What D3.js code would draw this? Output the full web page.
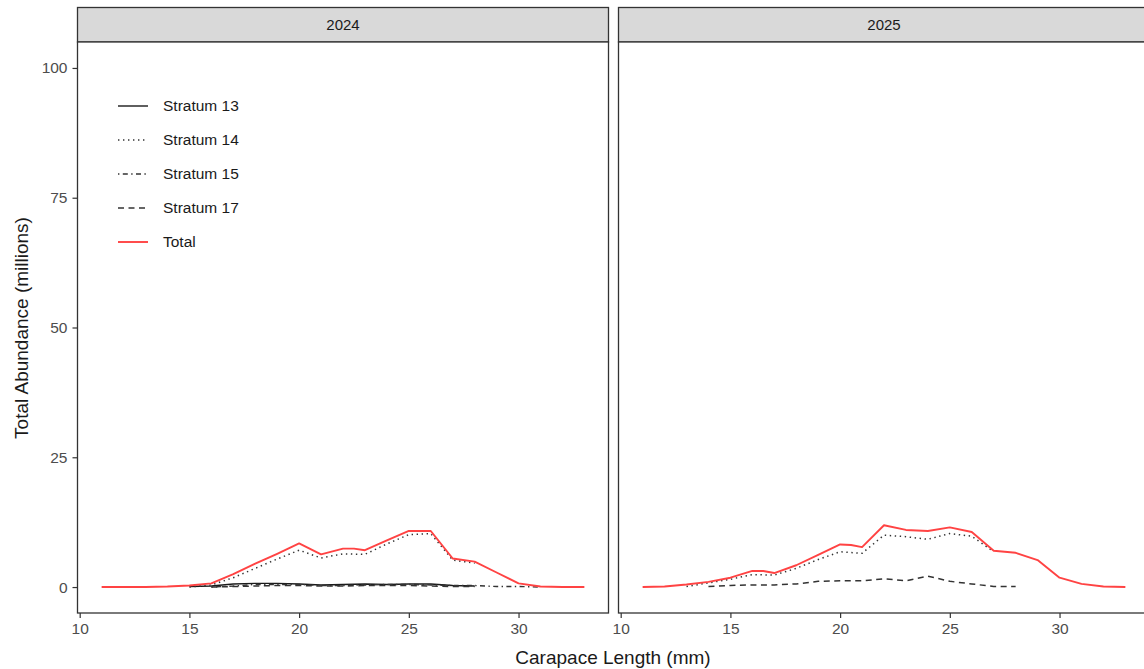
<!DOCTYPE html>
<html><head><meta charset="utf-8">
<script src="https://cdn.jsdelivr.net/npm/d3@7"></script>
<style>body{margin:0;background:#fff;} svg{display:block;font-family:"Liberation Sans",Arial,sans-serif;}</style>
</head><body>
<svg id="chart" width="1144" height="669"></svg>
<script>
const years = ["2024", "2025"];
const seriesNames = ["Stratum 13", "Stratum 14", "Stratum 15", "Stratum 17", "Total"];
const xTicks = [10, 15, 20, 25, 30];
const yTicks = [0, 25, 50, 75, 100];

// 2024
const s13_2024_x = [15, 16, 17, 18, 19, 20, 21, 22, 23, 24, 25, 26, 27, 28];
const s13_2024_y = [0.1, 0.2, 0.6, 0.7, 0.7, 0.6, 0.4, 0.5, 0.6, 0.5, 0.6, 0.6, 0.3, 0.2];
const s14_2024_x = [15, 16, 17, 18, 19, 20, 21, 22, 23, 24, 25, 26, 27, 28];
const s14_2024_y = [0.0, 0.4, 1.8, 3.6, 5.4, 7.1, 5.6, 6.4, 6.3, 8.3, 10.1, 10.3, 5.2, 4.6];
const s15_2024_x = [16, 17, 18, 19, 20, 21, 22, 23, 24, 25, 26, 27, 28, 29, 30, 31];
const s15_2024_y = [0.0, 0.2, 0.5, 0.5, 0.5, 0.3, 0.3, 0.4, 0.5, 0.5, 0.4, 0.3, 0.3, 0.1, 0.1, 0.0];
const s17_2024_x = [16, 17, 18, 19, 20, 21, 22, 23, 24, 25, 26, 27, 28];
const s17_2024_y = [0.0, 0.1, 0.2, 0.3, 0.3, 0.2, 0.2, 0.3, 0.3, 0.3, 0.2, 0.1, 0.1];
const tot_2024_x = [11, 12, 13, 14, 15, 16, 17, 18, 19, 20, 21, 22, 22.5, 23, 24, 25, 26, 27, 28, 29, 30, 31, 32, 33];
const tot_2024_y = [0, 0, 0, 0.1, 0.3, 0.7, 2.5, 4.5, 6.4, 8.4, 6.3, 7.4, 7.4, 7.1, 9.0, 10.8, 10.8, 5.5, 4.9, 2.8, 0.7, 0.1, 0, 0];

// 2025
const s14_2025_x = [13, 14, 15, 16, 17, 18, 19, 20, 21, 22, 23, 24, 25, 26, 27];
const s14_2025_y = [0.1, 0.8, 1.5, 2.4, 2.3, 3.6, 5.3, 6.8, 6.5, 10.0, 9.7, 9.2, 10.3, 9.8, 6.8];
const s17_2025_x = [14, 15, 16, 17, 18, 19, 20, 21, 22, 23, 24, 25, 26, 27, 28];
const s17_2025_y = [0.1, 0.3, 0.4, 0.4, 0.6, 1.1, 1.2, 1.2, 1.6, 1.2, 2.1, 1.1, 0.6, 0.1, 0.1];
const tot_2025_x = [11, 12, 13, 14, 15, 16, 16.5, 17, 18, 19, 20, 20.5, 21, 22, 23, 24, 25, 26, 27, 28, 29, 30, 31, 32, 33];
const tot_2025_y = [0, 0.1, 0.5, 1.0, 1.8, 3.1, 3.1, 2.7, 4.2, 6.2, 8.2, 8.1, 7.7, 11.9, 11.0, 10.8, 11.5, 10.6, 7.0, 6.6, 5.2, 1.8, 0.6, 0.1, 0];

const zip = (xs, ys) => xs.map((x, i) => ({x, y: ys[i]}));
const panelData = {
  "2024": [
    {name: "Stratum 13", pts: zip(s13_2024_x, s13_2024_y)},
    {name: "Stratum 14", pts: zip(s14_2024_x, s14_2024_y)},
    {name: "Stratum 15", pts: zip(s15_2024_x, s15_2024_y)},
    {name: "Stratum 17", pts: zip(s17_2024_x, s17_2024_y)},
    {name: "Total", pts: zip(tot_2024_x, tot_2024_y)}
  ],
  "2025": [
    {name: "Stratum 14", pts: zip(s14_2025_x, s14_2025_y)},
    {name: "Stratum 17", pts: zip(s17_2025_x, s17_2025_y)},
    {name: "Total", pts: zip(tot_2025_x, tot_2025_y)}
  ]
};

const styles = {
  "Stratum 13": {color: "#1a1a1a", dash: null, w: 1.4},
  "Stratum 14": {color: "#333", dash: "1.4,3.6", w: 1.5},
  "Stratum 15": {color: "#333", dash: "1.4,3.4,5,3.4", w: 1.4},
  "Stratum 17": {color: "#333", dash: "6,4.5", w: 1.5},
  "Total": {color: "#ff4343", dash: null, w: 1.9}
};

const svg = d3.select("#chart");
const panelLefts = [77.5, 618.5];
const panelW = 531;
const panelTop = 42, panelBottom = 613, stripTop = 7.5;

const y = d3.scaleLinear().domain([-5, 105]).range([panelBottom, panelTop]);

years.forEach((yr, i) => {
  const left = panelLefts[i];
  const x = d3.scaleLinear().domain([9.9, 34.1]).range([left, left + panelW]);
  const g = svg.append("g");

  g.append("rect").attr("x", left).attr("y", stripTop).attr("width", panelW).attr("height", panelTop - stripTop)
    .attr("fill", "#d9d9d9").attr("stroke", "#333").attr("stroke-width", 1.3);
  g.append("text").attr("x", left + panelW / 2).attr("y", (stripTop + panelTop) / 2)
    .attr("dy", "0.35em").attr("text-anchor", "middle").attr("font-size", 15).attr("fill", "#1a1a1a").text(yr);

  g.append("rect").attr("x", left).attr("y", panelTop).attr("width", panelW).attr("height", panelBottom - panelTop)
    .attr("fill", "#fff");

  const clipId = "clip" + i;
  svg.append("clipPath").attr("id", clipId).append("rect")
    .attr("x", left).attr("y", panelTop).attr("width", panelW).attr("height", panelBottom - panelTop);

  const line = d3.line().x(d => x(d.x)).y(d => y(d.y));
  const lg = g.append("g").attr("clip-path", `url(#${clipId})`);
  panelData[yr].forEach(s => {
    const st = styles[s.name];
    lg.append("path").datum(s.pts).attr("d", line).attr("fill", "none")
      .attr("stroke", st.color).attr("stroke-width", st.w)
      .attr("stroke-dasharray", st.dash).attr("stroke-linejoin", "round");
  });

  g.append("rect").attr("x", left).attr("y", panelTop).attr("width", panelW).attr("height", panelBottom - panelTop)
    .attr("fill", "none").attr("stroke", "#333").attr("stroke-width", 1.3);

  const xa = g.append("g").attr("transform", `translate(0,${panelBottom})`)
    .call(d3.axisBottom(x).tickValues(xTicks).tickSize(5).tickPadding(5).tickFormat(d3.format("d")));
  xa.select(".domain").remove();
  xa.selectAll("line").attr("stroke", "#333").attr("stroke-width", 1.2);
  xa.selectAll("text").attr("font-size", 15.5).attr("fill", "#4d4d4d").attr("font-family", "Liberation Sans, Arial, sans-serif");

  if (i === 0) {
    const ya = g.append("g").attr("transform", `translate(${left},0)`)
      .call(d3.axisLeft(y).tickValues(yTicks).tickSize(5).tickPadding(5));
    ya.select(".domain").remove();
    ya.selectAll("line").attr("stroke", "#333").attr("stroke-width", 1.2);
    ya.selectAll("text").attr("font-size", 15.5).attr("fill", "#4d4d4d").attr("font-family", "Liberation Sans, Arial, sans-serif");

    const leg = g.append("g");
    seriesNames.forEach((n, k) => {
      const yy = 106 + k * 34;
      const st = styles[n];
      leg.append("line").attr("x1", 118).attr("x2", 148).attr("y1", yy).attr("y2", yy)
        .attr("stroke", st.color).attr("stroke-width", st.w).attr("stroke-dasharray", st.dash);
      leg.append("text").attr("x", 163).attr("y", yy).attr("dy", "0.35em")
        .attr("font-size", 15.5).attr("fill", "#1a1a1a").text(n);
    });
  }
});

svg.append("text").attr("x", 613).attr("y", 657).attr("dy", "0.35em").attr("text-anchor", "middle")
  .attr("font-size", 19).attr("fill", "#1a1a1a").text("Carapace Length (mm)");
svg.append("text").attr("transform", "translate(21,328) rotate(-90)").attr("dy", "0.35em").attr("text-anchor", "middle")
  .attr("font-size", 19).attr("fill", "#1a1a1a").text("Total Abundance (millions)");
</script>
</body></html>
